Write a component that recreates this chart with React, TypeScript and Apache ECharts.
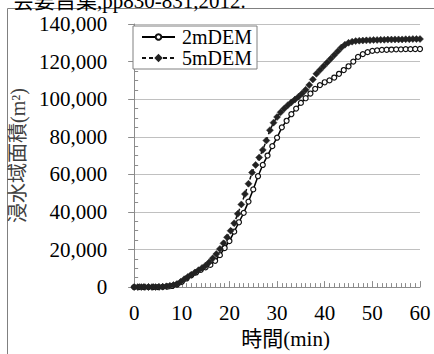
import React, { useEffect, useRef } from "react";
import * as echarts from "echarts";

const seriesNames = ["2mDEM", "5mDEM"];
const xTicks = [0, 10, 20, 30, 40, 50, 60];
const yTicks = [0, 20000, 40000, 60000, 80000, 100000, 120000, 140000];

// time grids (min)
const time2m = Array.from({ length: 61 }, (_, i) => i);
const time5m = Array.from({ length: 81 }, (_, i) => i * 0.75);

// inundated area (m²)
const area2m = [
  0, 0, 0, 0, 0, 0, 100, 300, 600, 1400,
  2800, 4600, 6300, 7800, 9200, 10500, 11800, 14000, 17000, 20800,
  24500, 29500, 34500, 39500, 45500, 52000, 59000, 65000, 70000, 75000,
  79500, 85000, 88500, 92000, 95000, 98000, 100500, 103000, 105500, 107500,
  109000, 110000, 111500, 113500, 115500, 117500, 120000, 122500, 124000, 125000,
  125700, 126000, 126200, 126300, 126400, 126500, 126500, 126600, 126600, 126700,
  126700,
];
const area5m = [
  0, 0, 0, 0, 0, 0, 0, 100, 200, 400,
  700, 1100, 1700, 2800, 4200, 5400, 6600, 7800, 9000, 10200,
  11500, 13200, 15300, 17600, 20300, 23300, 26500, 30000, 34000, 39000,
  44000, 49500, 55000, 61000, 65000, 69000, 73000, 78000, 83500, 87500,
  90500, 93000, 95000, 96800, 98300, 99800, 101300, 103000, 105000, 107500,
  110500, 113500, 115500, 117500, 119500, 121500, 123500, 125500, 127500, 129000,
  130000, 130600, 130900, 131100, 131200, 131300, 131400, 131500, 131500, 131600,
  131600, 131700, 131700, 131800, 131800, 131800, 131900, 131900, 132000, 132000,
  132000,
];

const FONT = "'Liberation Serif', 'Noto Sans CJK JP', serif";

export default function App() {
  const ref = useRef<HTMLDivElement>(null);
  useEffect(() => {
    if (!ref.current) return;
    const chart = echarts.init(ref.current, undefined, { renderer: "svg" });
    const axisColor = "#8c8c8c";
    chart.setOption({
      animation: false,
      textStyle: { fontFamily: FONT },
      graphic: [
        {
          type: "rect",
          shape: { x: 7.5, y: 8.5, width: 600, height: 600 },
          style: { fill: "none", stroke: "#808080", lineWidth: 1 },
          silent: true,
          z: -10,
        },
        {
          type: "text",
          x: 13,
          y: 11,
          style: {
            text: "会要旨集,pp830-831,2012.",
            font: `21px ${FONT}`,
            fill: "#000",
            verticalAlign: "bottom",
          },
        },
      ],
      legend: {
        left: 133,
        top: 26,
        orient: "vertical",
        itemWidth: 33,
        itemHeight: 7,
        itemGap: 1,
        padding: [1, 5, 1, 8],
        backgroundColor: "#fff",
        borderColor: "#808080",
        borderWidth: 1,
        borderRadius: 0,
        textStyle: { fontFamily: FONT, fontSize: 20, color: "#000", padding: [0, 0, 0, 2] },
        data: seriesNames,
      },
      grid: { left: 127, right: 14, top: 24, bottom: 56, containLabel: false },
      xAxis: {
        type: "value",
        min: xTicks[0],
        max: xTicks[xTicks.length - 1],
        interval: 10,
        name: "時間(min)",
        nameLocation: "middle",
        nameGap: 40,
        nameTextStyle: { fontFamily: FONT, fontSize: 21, color: "#000", padding: [0, 0, 0, 17] },
        axisLine: { show: true, onZero: false, lineStyle: { color: axisColor, width: 1 } },
        axisTick: { show: true, inside: true, length: 6, lineStyle: { color: axisColor } },
        minorTick: { show: true, splitNumber: 10, length: 4, lineStyle: { color: axisColor } },
        axisLabel: { fontFamily: FONT, fontSize: 21, color: "#000", margin: 15 },
        splitLine: { show: false },
      },
      yAxis: [
        {
          type: "value",
          min: yTicks[0],
          max: yTicks[yTicks.length - 1],
          interval: 20000,
          position: "left",
          name: "浸水域面積(m²)",
          nameLocation: "middle",
          nameGap: 101,
          nameRotate: 90,
          nameTextStyle: { fontFamily: FONT, fontSize: 20, color: "#404040" },
          axisLine: { show: true, lineStyle: { color: axisColor, width: 1 } },
          axisTick: { show: true, inside: false, length: 6, lineStyle: { color: axisColor } },
          axisLabel: {
            fontFamily: FONT,
            fontSize: 21,
            color: "#000",
            margin: 27,
            formatter: (v: number) => v.toLocaleString("en-US"),
          },
          splitLine: { show: true, lineStyle: { color: "#c0c0c0", width: 1 } },
        },
        {
          type: "value",
          min: yTicks[0],
          max: yTicks[yTicks.length - 1],
          interval: 20000,
          position: "left",
          axisLine: { show: false },
          axisLabel: { show: false },
          splitLine: { show: false },
          axisTick: { show: false, inside: true },
          minorTick: { show: true, splitNumber: 4, length: 4, lineStyle: { color: axisColor } },
        },
      ],
      series: [
        {
          name: seriesNames[0],
          type: "line",
          data: time2m.map((t, i) => [t, area2m[i]]),
          symbol: "circle",
          symbolSize: 5,
          showAllSymbol: true,
          lineStyle: { color: "#000", width: 1.5 },
          itemStyle: { color: "#fff", borderColor: "#111", borderWidth: 1.2 },
        },
        {
          name: seriesNames[1],
          type: "line",
          data: time5m.map((t, i) => [t, area5m[i]]),
          symbol: "diamond",
          symbolSize: 7,
          showAllSymbol: true,
          lineStyle: { color: "#111", width: 1.5, type: [4, 3] },
          itemStyle: { color: "#222", borderColor: "#222", borderWidth: 0.5 },
        },
      ],
    });
    return () => chart.dispose();
  }, []);
  return <div ref={ref} style={{ width: 434, height: 354, position: "absolute", left: 0, top: 0 }} />;
}
